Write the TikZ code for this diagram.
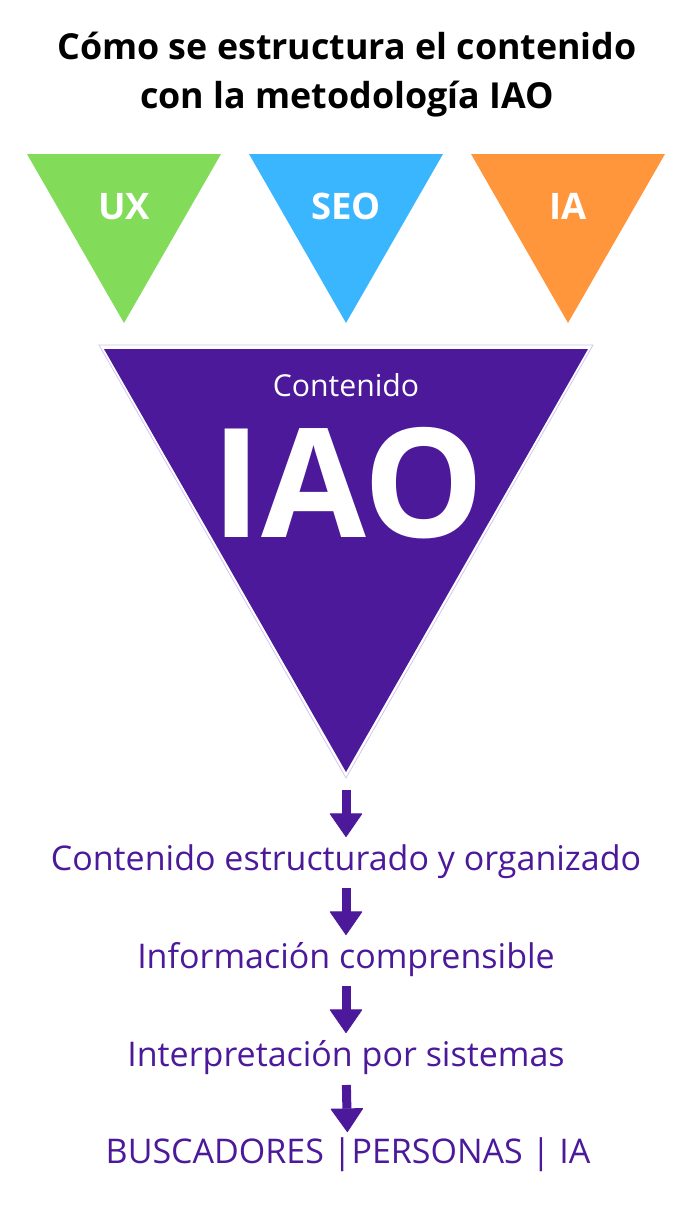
\documentclass[tikz,border=0pt]{standalone}
\usepackage{fontspec}
\setmainfont{Open Sans}
\usetikzlibrary{arrows.meta}
\definecolor{uxgreen}{HTML}{82DC5A}
\definecolor{seoblue}{HTML}{3AB6FF}
\definecolor{iaorange}{HTML}{FF963C}
\definecolor{iaopurple}{HTML}{4B1999}
\definecolor{lavender}{HTML}{CFC6EE}
\tikzset{
  titletext/.style={font=\fontsize{35.8}{42}\selectfont\bfseries, anchor=base, inner sep=0pt},
  tritext/.style={font=\fontsize{36.5}{44}\selectfont\bfseries, text=white, anchor=base, inner sep=0pt},
  steptext/.style={font=\fontsize{34}{40}\selectfont, text=iaopurple, anchor=base, inner sep=0pt},
  flow/.style={draw=iaopurple, line width=9pt, -{Triangle[width=33pt,length=24pt,round,line width=1pt]}},
}
\begin{document}
\begin{tikzpicture}[x=1pt,y=-1pt]
\useasboundingbox (0,0) rectangle (695,1205);
% title
\node[titletext] (title1) at (347,59) {Cómo se estructura el contenido};
\node[titletext] (title2) at (347,108) {con la metodología IAO};
% small triangles
\fill[uxgreen] (27,154) -- (221,154) -- (124,323) -- cycle;
\fill[seoblue] (249,154) -- (443,154) -- (346,323) -- cycle;
\fill[iaorange] (471,154) -- (665,154) -- (568,323) -- cycle;
\node[tritext] (ux) at (124,219) {UX};
\node[tritext] (seo) at (346,219) {SEO};
\node[tritext] (ia) at (568,219) {IA};
% big triangle
\draw[lavender, line width=0.8pt] (99,345) -- (593,345) -- (346,778) -- cycle;
\fill[iaopurple] (104,349) -- (588,349) -- (346,772) -- cycle;
\coordinate (apex) at (346,775);
\node[font=\fontsize{30.2}{36}\selectfont, text=white, anchor=base, inner sep=0pt] (cont) at (346,396) {Contenido};
\node[font=\fontsize{152}{160}\selectfont\bfseries, text=white, anchor=base, inner sep=0pt] (iao) at (348,537) {IAO};
% steps
\node[steptext] (t1) at (346,870) {Contenido estructurado y organizado};
\node[steptext] (t2) at (346,968) {Información comprensible};
\node[steptext] (t3) at (346,1066) {Interpretación por sistemas};
\node[steptext] (t4) at (348,1163) {BUSCADORES |PERSONAS | IA};
\draw[flow, shorten <=15pt, shorten >=33pt] (apex) -- (t1.base);
\draw[flow, shorten <=18pt, shorten >=33pt] (t1.base) -- (t2.base);
\draw[flow, shorten <=18pt, shorten >=33pt] (t2.base) -- (t3.base);
\draw[flow, shorten <=19pt, shorten >=31pt] (t3.base) -- (t4.base);
\end{tikzpicture}
\end{document}
